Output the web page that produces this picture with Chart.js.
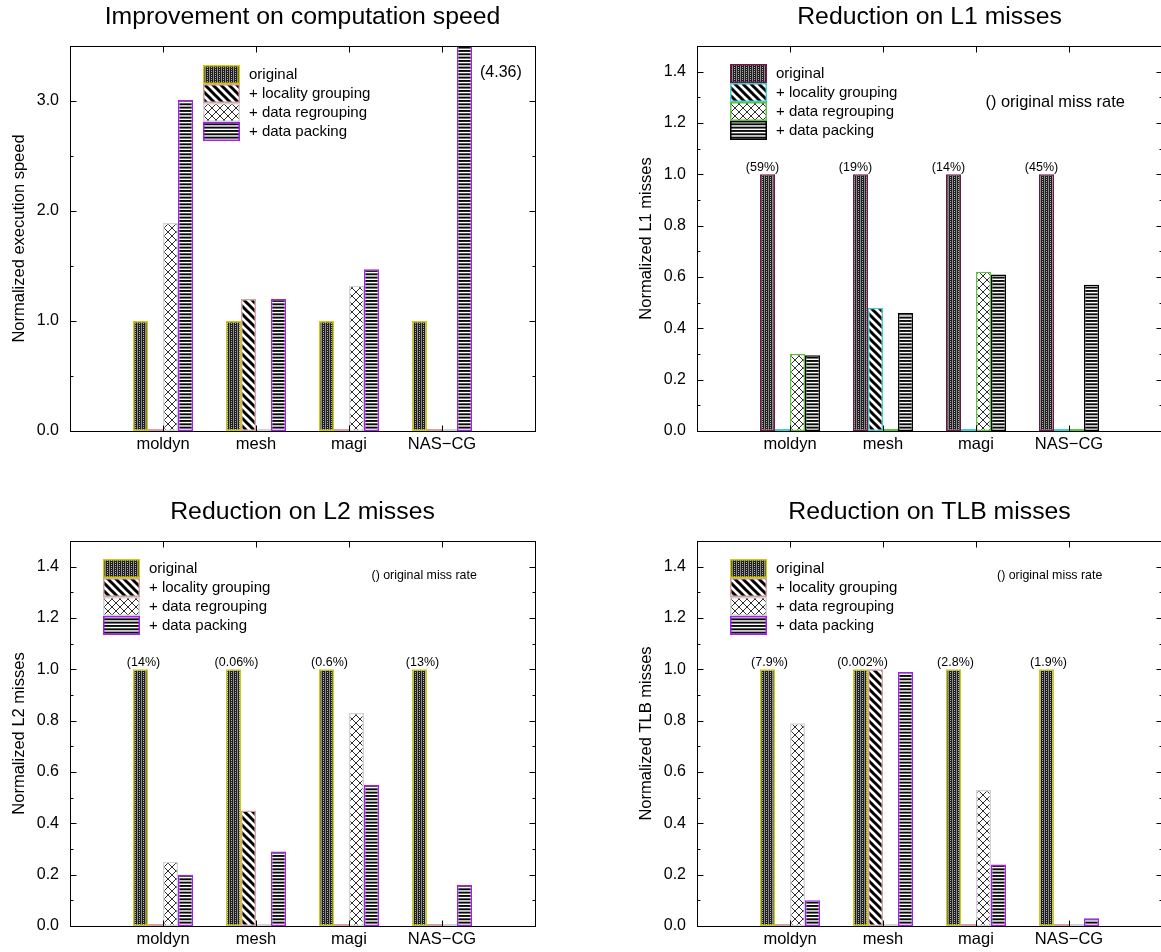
<!DOCTYPE html>
<html>
<head>
<meta charset="utf-8">
<title>Data layout optimizations</title>
<script src="https://cdn.jsdelivr.net/npm/chart.js@4.4.1/dist/chart.umd.min.js"></script>
<style>
  html, body { margin: 0; padding: 0; background: #fff; overflow: hidden; width: 1161px; height: 952px; }
  .panel { position: absolute; width: 580px; height: 476px; }
  .panel canvas { display: block; }
</style>
</head>
<body>
<div class="panel" style="left:0px;top:0px"><canvas id="speedChart" width="580" height="476"></canvas></div>
<div class="panel" style="left:627px;top:0px"><canvas id="l1Chart" width="580" height="476"></canvas></div>
<div class="panel" style="left:0px;top:495px"><canvas id="l2Chart" width="580" height="476"></canvas></div>
<div class="panel" style="left:627px;top:495px"><canvas id="tlbChart" width="580" height="476"></canvas></div>
<script>
// ---- data ----
const categories = ['moldyn', 'mesh', 'magi', 'NAS\u2212CG'];
const seriesNames = ['original', '+ locality grouping', '+ data regrouping', '+ data packing'];

const speedOriginal = [1.0, 1.0, 1.0, 1.0];
const speedLocality = [0, 1.2, 0, 0];
const speedRegroup  = [1.89, 0, 1.32, 0];
const speedPacking  = [3.01, 1.2, 1.47, 4.36];

const l1Original = [1.0, 1.0, 1.0, 1.0];
const l1Locality = [0, 0.48, 0, 0];
const l1Regroup  = [0.30, 0, 0.62, 0];
const l1Packing  = [0.295, 0.46, 0.61, 0.57];

const l2Original = [1.0, 1.0, 1.0, 1.0];
const l2Locality = [0, 0.45, 0, 0];
const l2Regroup  = [0.25, 0, 0.83, 0];
const l2Packing  = [0.20, 0.29, 0.55, 0.16];

const tlbOriginal = [1.0, 1.0, 1.0, 1.0];
const tlbLocality = [0, 1.0, 0, 0];
const tlbRegroup  = [0.79, 0, 0.53, 0];
const tlbPacking  = [0.10, 0.99, 0.24, 0.03];

const l1MissRates  = ['(59%)', '(19%)', '(14%)', '(45%)'];
const l2MissRates  = ['(14%)', '(0.06%)', '(0.6%)', '(13%)'];
const tlbMissRates = ['(7.9%)', '(0.002%)', '(2.8%)', '(1.9%)'];

const speedTickLabels = ['0.0', '1.0', '2.0', '3.0'];
const missTickLabels  = ['0.0', '0.2', '0.4', '0.6', '0.8', '1.0', '1.2', '1.4'];

// ---- fill patterns ----
const FONT = "'Liberation Sans', Arial, Helvetica, sans-serif";
Chart.defaults.font.family = FONT;
Chart.defaults.color = '#000';

function tile(w, h, paint) {
  const c = document.createElement('canvas');
  c.width = w; c.height = h;
  const g = c.getContext('2d');
  paint(g, w, h);
  return g.createPattern(c, 'repeat');
}

const patterns = [
  // dense dark texture
  tile(4, 4, (g) => {
    g.fillStyle = '#1e1e1e'; g.fillRect(0, 0, 4, 4);
    g.fillStyle = '#8c8c8c'; g.fillRect(1, 0, 1, 4);
    g.fillStyle = '#b4b4b4'; g.fillRect(3, 1, 1, 1); g.fillRect(3, 3, 1, 1);
  }),
  // thick diagonal stripes
  tile(8, 8, (g) => {
    g.fillStyle = '#fff'; g.fillRect(0, 0, 8, 8);
    g.strokeStyle = '#000'; g.lineWidth = 3;
    g.beginPath();
    for (const c of [-8, 0, 8]) { g.moveTo(c - 4, -4); g.lineTo(c + 12, 12); }
    g.stroke();
  }),
  // thin cross-hatch
  tile(8, 8, (g) => {
    g.fillStyle = '#fff'; g.fillRect(0, 0, 8, 8);
    g.strokeStyle = '#303030'; g.lineWidth = 1;
    g.beginPath();
    for (const c of [-8, 0, 8]) {
      g.moveTo(c - 2, -2); g.lineTo(c + 10, 10);
      g.moveTo(c + 10, -2); g.lineTo(c - 2, 10);
    }
    g.stroke();
  }),
  // horizontal stripes
  tile(4, 10, (g) => {
    g.fillStyle = '#fff'; g.fillRect(0, 0, 4, 10);
    g.fillStyle = '#0a0a0a';
    for (let k = 0; k < 3; k++) g.fillRect(0, k * 10 / 3, 4, 1.9);
  })
];

const warmBorders = ['#cdcd00', '#d6a2a2', '#d3d3d3', '#a020f0'];
const coolBorders = ['#6e1848', '#40d0d0', '#60c040', '#000000'];

// ---- title, frame, inward ticks, legend and notes ----
const panelDecor = {
  id: 'panelDecor',
  afterDraw(chart, args, o) {
    const { ctx, chartArea: a, scales: { x, y } } = chart;
    ctx.save();

    // title centred over the plot frame
    ctx.fillStyle = '#000';
    ctx.font = '24.8px ' + FONT;
    ctx.textAlign = 'center';
    ctx.textBaseline = 'middle';
    ctx.fillText(o.title, (a.left + a.right) / 2, 17.5);

    const L = Math.round(a.left) + 0.5, R = Math.round(a.right) + 0.5;
    const T = Math.round(a.top) + 0.5, B = Math.round(a.bottom) + 0.5;

    ctx.strokeStyle = '#000';
    ctx.lineWidth = 1;
    ctx.strokeRect(L, T, R - L, B - T);
    ctx.beginPath();
    y.ticks.forEach((t) => {
      const py = Math.round(y.getPixelForValue(t.value)) + 0.5;
      const len = t.label !== '' ? 6 : 3;
      ctx.moveTo(L, py); ctx.lineTo(L + len, py);
      ctx.moveTo(R, py); ctx.lineTo(R - len, py);
    });
    categories.forEach((c, i) => {
      const px = Math.round(x.getPixelForValue(i + 1)) + 0.5;
      ctx.moveTo(px, T); ctx.lineTo(px, T + 6);
      ctx.moveTo(px, B); ctx.lineTo(px, B - 6);
    });
    ctx.stroke();

    // legend
    const lx = Math.round(a.left + o.legendX), ly = Math.round(a.top + o.legendY), rowH = 19, boxW = 37;
    ctx.font = '15px ' + FONT;
    ctx.textAlign = 'left';
    chart.data.datasets.forEach((ds, i) => {
      const top = ly + i * rowH;
      ctx.fillStyle = ds.backgroundColor;
      ctx.fillRect(lx, top, boxW, rowH);
      ctx.strokeStyle = ds.borderColor;
      ctx.lineWidth = 1.5;
      ctx.strokeRect(lx + 0.75, top + 0.75, boxW - 1.5, rowH - 1.5);
      ctx.fillStyle = '#000';
      ctx.fillText(ds.label, lx + boxW + 9, top + rowH / 2 + 0.5);
    });

    // miss-rate labels above the original bars
    if (o.rates) {
      const meta = chart.getDatasetMeta(0);
      ctx.font = '12.5px ' + FONT;
      ctx.textAlign = 'center';
      o.rates.forEach((txt, i) => {
        const bar = meta.data[i + 1];
        ctx.fillText(txt, bar.x + o.rateShift, bar.y - 6.5);
      });
    }

    // note text
    if (o.note) {
      ctx.font = o.noteSize + 'px ' + FONT;
      ctx.textAlign = 'left';
      ctx.fillText(o.note, a.left + o.noteX, a.top + o.noteY);
    }

    // value of a bar that runs past the top of the axis
    if (o.overflow) {
      const ds = o.overflow.dataset, idx = o.overflow.index;
      const bar = chart.getDatasetMeta(ds).data[idx + 1];
      const v = chart.data.datasets[ds].data[idx + 1];
      ctx.font = '16px ' + FONT;
      ctx.textAlign = 'left';
      ctx.fillText('(' + v.toFixed(2) + ')', bar.x + bar.width / 2 + 8, a.top + 26.3);
    }
    ctx.restore();
  }
};

function buildChart(id, cfg) {
  const datasets = cfg.series.map((vals, k) => ({
    label: seriesNames[k],
    data: [null, ...vals, null],
    backgroundColor: patterns[k],
    borderColor: cfg.borders[k],
    borderWidth: 1.5,
    borderSkipped: false,
    inflateAmount: 0,
    minBarLength: 2,
    categoryPercentage: 60 / 93,
    barPercentage: 1.0,
    clip: 0
  }));
  return new Chart(document.getElementById(id), {
    type: 'bar',
    data: { labels: ['', ...categories, ''], datasets },
    plugins: [panelDecor],
    options: {
      responsive: false,
      animation: false,
      events: [],
      layout: { padding: { left: 0, right: 45, top: 46, bottom: 0 } },
      plugins: {
        legend: { display: false },
        tooltip: { enabled: false },
        title: { display: false },
        panelDecor: Object.assign({ title: cfg.title }, cfg.decor)
      },
      scales: {
        x: {
          offset: false,
          grid: { display: false, drawTicks: false },
          border: { display: false },
          ticks: { color: '#000', font: { size: 16.5 }, padding: 4, autoSkip: false, maxRotation: 0 },
          afterFit(s) { s.height = 45; }
        },
        y: {
          min: 0,
          max: cfg.yMax,
          grid: { display: false, drawTicks: false },
          border: { display: false },
          ticks: {
            stepSize: cfg.step,
            autoSkip: false,
            color: '#000',
            font: { size: 16 },
            padding: 11,
            callback: (v) => {
              const s = Number(v).toFixed(1);
              return cfg.tickLabels.includes(s) ? s : '';
            }
          },
          title: {
            display: true,
            text: cfg.yTitle,
            color: '#000',
            font: { size: 16.5 },
            padding: { top: 10, bottom: 0 }
          },
          afterFit(s) { s.width = 70; }
        }
      }
    }
  });
}

buildChart('speedChart', {
  title: 'Improvement on computation speed',
  yTitle: 'Normalized execution speed',
  yMax: 3.5, step: 0.5, tickLabels: speedTickLabels,
  series: [speedOriginal, speedLocality, speedRegroup, speedPacking],
  borders: warmBorders,
  decor: { legendX: 133.3, legendY: 18.6, overflow: { dataset: 3, index: 3 } }
});

buildChart('l1Chart', {
  title: 'Reduction on L1 misses',
  yTitle: 'Normalized L1 misses',
  yMax: 1.5, step: 0.1, tickLabels: missTickLabels,
  series: [l1Original, l1Locality, l1Regroup, l1Packing],
  borders: coolBorders,
  decor: { legendX: 32.5, legendY: 18.3, rates: l1MissRates, rateShift: -5,
           note: '() original miss rate', noteX: 288.5, noteY: 56, noteSize: 16.4 }
});

buildChart('l2Chart', {
  title: 'Reduction on L2 misses',
  yTitle: 'Normalized L2 misses',
  yMax: 1.5, step: 0.1, tickLabels: missTickLabels,
  series: [l2Original, l2Locality, l2Regroup, l2Packing],
  borders: warmBorders,
  decor: { legendX: 33, legendY: 17.6, rates: l2MissRates, rateShift: 3,
           note: '() original miss rate', noteX: 301.5, noteY: 34.3, noteSize: 12.4 }
});

buildChart('tlbChart', {
  title: 'Reduction on TLB misses',
  yTitle: 'Normalized TLB misses',
  yMax: 1.5, step: 0.1, tickLabels: missTickLabels,
  series: [tlbOriginal, tlbLocality, tlbRegroup, tlbPacking],
  borders: warmBorders,
  decor: { legendX: 32.5, legendY: 18.3, rates: tlbMissRates, rateShift: 2,
           note: '() original miss rate', noteX: 300, noteY: 34.3, noteSize: 12.4 }
});
</script>
</body>
</html>
